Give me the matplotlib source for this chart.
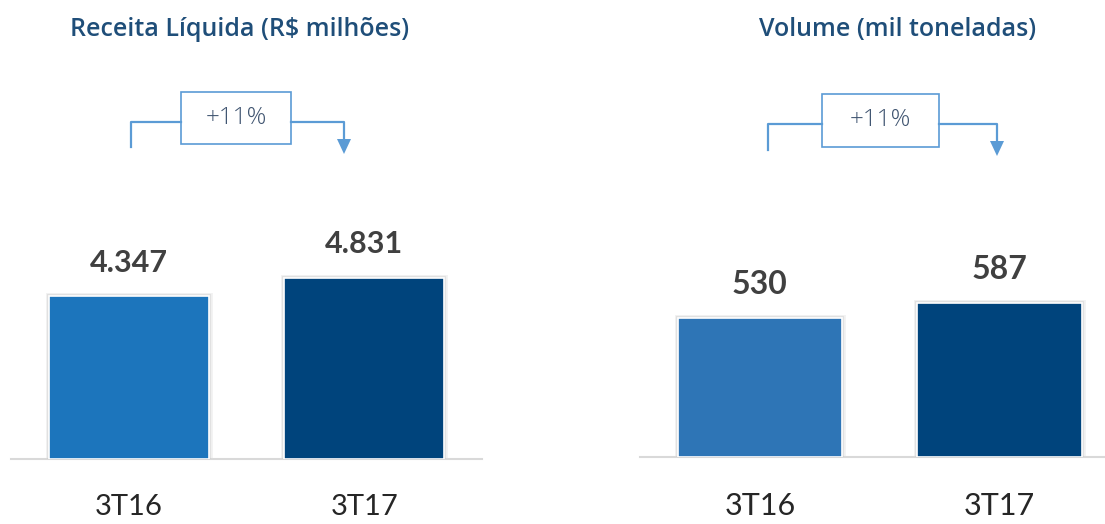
import matplotlib
matplotlib.use("Agg")
import matplotlib.pyplot as plt
from matplotlib.patches import Rectangle, Polygon
import matplotlib.patheffects as pe

W, H = 1105, 524
categories = ["3T16", "3T17"]
receita = [4347, 4831]
receita_labels = ["4.347", "4.831"]
volume = [530, 587]
volume_labels = ["530", "587"]
growth_labels = ["+11%", "+11%"]
titles = ["Receita Líquida (R$ milhões)", "Volume (mil toneladas)"]

fig = plt.figure(figsize=(W / 100, H / 100), dpi=100)
fig.patch.set_facecolor("white")

def fx(x):
    return x / W

def fy(y):
    return 1 - y / H

TXT = "Lato"

def panel(x0, x1, base, top, xlim, ylim, vals, labels, colors, width, lblsize, catsize):
    ax = fig.add_axes([fx(x0), fy(base), fx(x1) - fx(x0), fy(top) - fy(base)])
    ax.set_xlim(*xlim)
    ax.set_ylim(*ylim)
    bars = ax.bar(range(len(vals)), vals, width=width, color=colors,
                  edgecolor="white", linewidth=1.2, zorder=3)
    for b in bars:
        b.set_path_effects([pe.Stroke(linewidth=5, foreground="#dcdcdc", alpha=0.35),
                            pe.Stroke(linewidth=3, foreground="#c8c8c8", alpha=0.4),
                            pe.Normal()])
    for i, (v, l) in enumerate(zip(vals, labels)):
        ax.annotate(l, (i, v), xytext=(0, 14), textcoords="offset points",
                    ha="center", va="bottom", fontsize=lblsize, fontweight="bold",
                    color="#404040", family=TXT)
    for s in ["top", "right", "left"]:
        ax.spines[s].set_visible(False)
    ax.spines["bottom"].set_color("#d9d9d9")
    ax.spines["bottom"].set_linewidth(1.5)
    ax.set_yticks([])
    ax.set_xticks(range(len(vals)))
    ax.set_xticklabels(categories, fontsize=catsize, color="#262626", family=TXT)
    ax.tick_params(axis="x", length=0, pad=25)
    ax.patch.set_alpha(0)
    return ax

panel(11, 482, 459, 60, (-0.5, 1.5), (0, 399 * 4347 / 163), receita, receita_labels,
      ["#1c75bc", "#00447c"], 0.68, 22, 21)
panel(640, 1105, 457, 60, (-0.5, 1.44), (0, 397 * 530 / 139), volume, volume_labels,
      ["#2e75b6", "#00447c"], 0.685, 23, 22)

# titles
fig.text(fx(240), fy(29), titles[0], ha="center", va="center", fontsize=18,
         fontweight="semibold", color="#1f4e79", family="Open Sans")
fig.text(fx(898), fy(29), titles[1], ha="center", va="center", fontsize=18,
         fontweight="semibold", color="#1f4e79", family="Open Sans")

LC = "#5b9bd5"

def bracket(xl, yl_bot, yh, bx0, bx1, by0, by1, xa, ya_tip, label):
    fig.add_artist(plt.Line2D([fx(xl), fx(xl), fx(bx0)], [fy(yl_bot), fy(yh), fy(yh)],
                              color=LC, lw=1.6))
    fig.add_artist(plt.Line2D([fx(bx1), fx(xa), fx(xa)], [fy(yh), fy(yh), fy(ya_tip - 12)],
                              color=LC, lw=1.6))
    fig.add_artist(Polygon([(fx(xa - 7), fy(ya_tip - 15)), (fx(xa + 7), fy(ya_tip - 15)),
                            (fx(xa), fy(ya_tip))], closed=True, facecolor=LC,
                           edgecolor="none", transform=fig.transFigure))
    fig.add_artist(Rectangle((fx(bx0), fy(by1)), fx(bx1) - fx(bx0), fy(by0) - fy(by1),
                             facecolor="white", edgecolor=LC, lw=1.2,
                             transform=fig.transFigure))
    fig.text(fx((bx0 + bx1) / 2), fy((by0 + by1) / 2), label, ha="center", va="center",
             fontsize=17.5, color="#3f5470", family="Open Sans", fontweight="light")

bracket(131, 147, 122, 181, 291, 92, 144, 344, 154, growth_labels[0])
bracket(768, 150, 124, 822, 939, 94, 147, 997, 156, growth_labels[1])

fig.savefig("out.png", dpi=100, facecolor="white")
